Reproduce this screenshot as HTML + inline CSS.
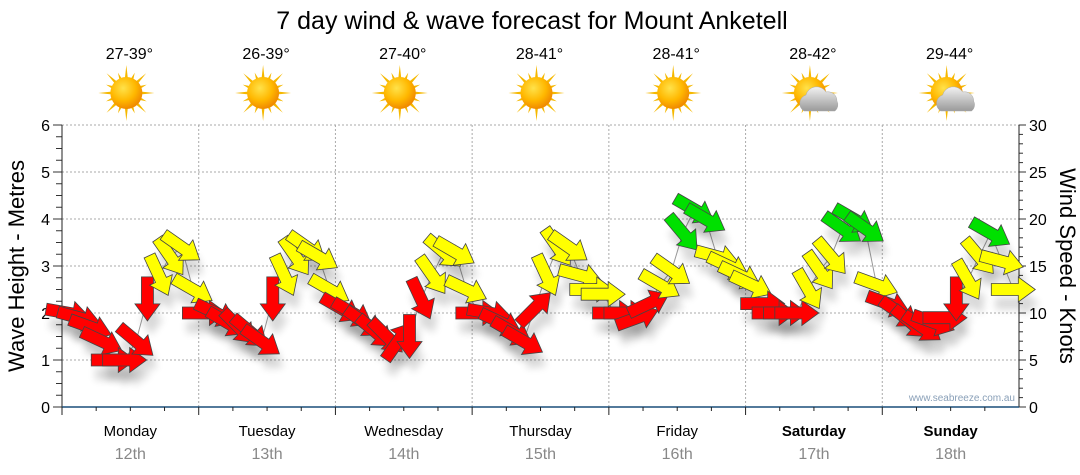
<!DOCTYPE html>
<html><head><meta charset="utf-8"><style>
body{margin:0;background:#fff;}
svg{display:block;font-family:"Liberation Sans",sans-serif;}
</style></head><body>
<svg id="c" width="1080" height="475" viewBox="0 0 1080 475">
<defs>
<radialGradient id="sunG" cx="40%" cy="35%" r="65%"><stop offset="0" stop-color="#ffe24a"/><stop offset="0.6" stop-color="#ffb800"/><stop offset="1" stop-color="#f08a00"/></radialGradient>
<linearGradient id="cloudG" x1="0" y1="0" x2="0" y2="1"><stop offset="0" stop-color="#f2f2f2"/><stop offset="1" stop-color="#9a9a9a"/></linearGradient>
<filter id="sh" x="-50%" y="-50%" width="200%" height="200%"><feGaussianBlur stdDeviation="4"/></filter>
</defs>
<text x="532" y="29" font-size="25" text-anchor="middle" fill="#000">7 day wind &amp; wave forecast for Mount Anketell</text>
<g id="grid"></g>
<g id="axes"></g>
<g id="icons"></g>
<g id="marks"></g>
<text x="24" y="266" font-size="22" text-anchor="middle" transform="rotate(-90 24 266)">Wave Height - Metres</text>
<text x="1060" y="266" font-size="22" text-anchor="middle" transform="rotate(90 1060 266)">Wind Speed - Knots</text>
<text x="1015" y="401" font-size="10" text-anchor="end" fill="#8aa0b8">www.seabreeze.com.au</text>
</svg>
<script>
const days=["Monday","Tuesday","Wednesday","Thursday","Friday","Saturday","Sunday"];
const dates=["12th","13th","14th","15th","16th","17th","18th"];
const temps=["27-39°","26-39°","27-40°","28-41°","28-41°","28-42°","29-44°"];
const cloudy=[false,false,false,false,false,true,true];
const waveTicks=[0,1,2,3,4,5,6];
const windTicks=[0,5,10,15,20,25,30];
const windKnots=[
 10,9.5,8.5,7,5,5,7,11.5,14,16,17,12.5,
 10,10,9,8.5,8,7,11.5,14,16,17,16,12.5,
 10.5,10,9,8,7.5,7,7.5,11.5,14,16.5,16.5,12.5,
 10,10,9,8,7,10.5,14,17,17,14,12.5,12,
 10,10,9.5,11,13,14.5,18.5,21,20,16,15,14,
 13,11,10,10,10,12.5,14.5,16,19,20,19,13,
 11,10,9,8.5,9,9.5,11.5,13.5,16,18.5,15.5,12.5];
const windDir=[
 10,15,20,25,0,0,40,90,65,55,35,30,
 0,25,30,45,40,35,90,65,55,35,30,30,
 30,30,35,40,45,-55,90,65,55,40,30,25,
 0,10,25,30,30,-45,65,55,35,15,0,0,
 0,0,-20,-25,30,35,50,30,30,15,25,25,
 25,0,0,0,0,60,55,50,35,30,35,20,
 20,35,40,35,20,0,90,60,50,30,15,0];
const NS="http://www.w3.org/2000/svg";
const X0=62,X1=1019,Y0=407,Y1=125,DW=(X1-X0)/7,PER=12;
const yW=v=>Y0-(v/6)*(Y0-Y1);
const yK=v=>Y0-(v/30)*(Y0-Y1);
const xI=i=>X0+(i+0.5)*DW/PER;
function mk(t,a,p){const e=document.createElementNS(NS,t);for(const k in a)e.setAttribute(k,a[k]);p.appendChild(e);return e;}
const grid=document.getElementById('grid'),axes=document.getElementById('axes'),icons=document.getElementById('icons'),marks=document.getElementById('marks');
waveTicks.forEach(v=>{
 if(v>0){const g=mk('line',{x1:X0,x2:X1,y1:yW(v),y2:yW(v),stroke:'#aaa','stroke-dasharray':'2,2'},grid);
 
 }
 const t=mk('text',{x:50,y:yW(v)+6,'font-size':16,'text-anchor':'end'},axes);t.textContent=v;
 
 
});
windTicks.forEach(v=>{
 const t=mk('text',{x:1029,y:yK(v)+6,'font-size':16},axes);t.textContent=v;
 
 
});
for(let m=0;m<=24;m++){const y=Y0-m*(Y0-Y1)/24;mk('line',{x1:m%4?56:53,x2:X0,y1:y,y2:y,stroke:'#333'},axes);}
for(let m=0;m<=30;m++){const y=yK(m);mk('line',{x1:X1,x2:m%5?1023:1026,y1:y,y2:y,stroke:'#333'},axes);}
mk('line',{x1:X0,x2:X0,y1:Y1,y2:Y0,stroke:'#222'},axes);
mk('line',{x1:X1,x2:X1,y1:Y1,y2:Y0,stroke:'#222'},axes);
mk('line',{x1:X0,x2:X1,y1:Y0,y2:Y0,stroke:'#1a4f7a','stroke-width':1.5},axes);
for(let d=0;d<7;d++){
 const xs=X0+d*DW,cx=xs+DW/2;
 if(d>0){const g=mk('line',{x1:xs,x2:xs,y1:Y1,y2:Y0,stroke:'#aaa','stroke-dasharray':'2,2'},grid);
 
 }
 for(let q=0;q<4;q++){const x=xs+q*DW/4;mk('line',{x1:x,x2:x,y1:Y0,y2:Y0+(q?4:8),stroke:'#222'},axes);}
 const a=mk('text',{x:cx,y:436,'font-size':15,'text-anchor':'middle','font-weight':d>=5?'bold':'normal'},axes);a.textContent=days[d];
 
 
 const b=mk('text',{x:cx,y:459,'font-size':16,'text-anchor':'middle',fill:'#888'},axes);b.textContent=dates[d];
 
 
 const tt=mk('text',{x:cx-1,y:59,'font-size':16,'text-anchor':'middle'},icons);tt.textContent=temps[d];
 
 
 const g=mk('g',{transform:`translate(${cx-4},93)`},icons);
 
 
 for(let r=0;r<16;r++){const ang=r*22.5*Math.PI/180,L=r%2?22:28;
  mk('polygon',{points:`${Math.cos(ang)*L},${Math.sin(ang)*L} ${Math.cos(ang+0.13)*13},${Math.sin(ang+0.13)*13} ${Math.cos(ang-0.13)*13},${Math.sin(ang-0.13)*13}`,fill:'#f5b800'},g);}
 mk('circle',{cx:0,cy:0,r:16,fill:'url(#sunG)'},g);
 if(cloudy[d]){mk('path',{d:'M-6,18 a9,9 0 0 1 2,-16 a11,11 0 0 1 20,-3 a9,9 0 0 1 11,9 a8,8 0 0 1 -2,10 z',fill:'url(#cloudG)',stroke:'#aaa','stroke-width':0.5},g);}
}
let pts=windKnots.map((k,i)=>`${xI(i)},${yK(k)}`).join(' ');
const pl=mk('polyline',{points:pts,fill:'none',stroke:'#999','stroke-width':1},marks);


const shape="-22,-6 5,-6 5,-12.5 22,0 5,12.5 5,6 -22,6";
windKnots.forEach((k,i)=>{
 mk('polygon',{points:shape,fill:'#000',opacity:0.15,filter:'url(#sh)',transform:`translate(${xI(i)+4},${yK(k)+14}) rotate(${windDir[i]})`},marks);
});
windKnots.forEach((k,i)=>{
 const col=k>=18?'#00e000':(k>=12?'#ffff00':'#ff0000');
 const p=mk('polygon',{points:shape,fill:col,stroke:'#444','stroke-width':0.8,transform:`translate(${xI(i)},${yK(k)}) rotate(${windDir[i]})`},marks);
 
 
});
</script>
</body></html>
